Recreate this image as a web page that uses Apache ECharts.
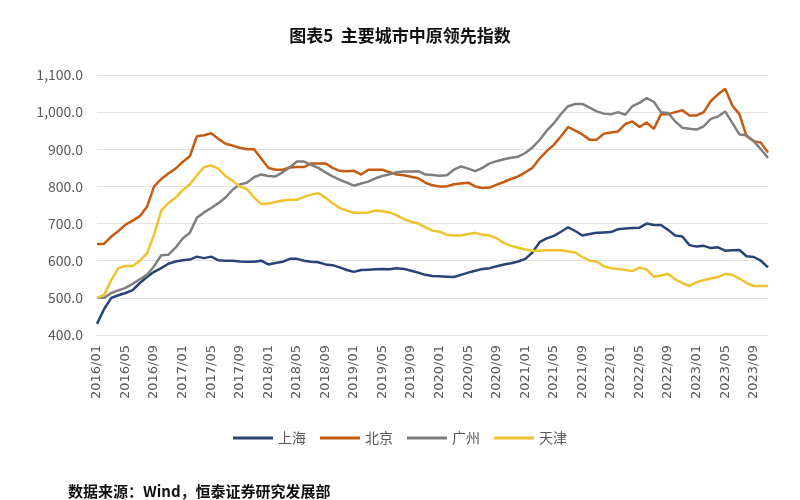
<!DOCTYPE html>
<html>
<head>
<meta charset="utf-8">
<script src="https://cdn.jsdelivr.net/npm/echarts@6/dist/echarts.min.js"></script>
<style>
  html, body { margin: 0; padding: 0; background: #fff; }
  #chart { width: 800px; height: 500px; }
</style>
</head>
<body>
<div id="chart"></div>
<script>
// 月份：2016/01 - 2023/11
const months = [];
for (let y = 2016; y <= 2023; y++) {
  for (let m = 1; m <= 12; m++) {
    if (y === 2023 && m > 11) break;
    months.push(y + '/' + String(m).padStart(2, '0'));
  }
}

const shanghai = [
  430, 470, 500, 507, 513, 521, 540, 556, 570, 580, 592, 598,
  601, 603, 611, 607, 611, 601, 600, 600, 598, 597, 597, 600,
  590, 594, 597, 605, 605, 600, 597, 596, 590, 588, 582, 575,
  570, 575, 576, 577, 578, 577, 580, 578, 573, 568, 562, 559,
  558, 557, 556, 562, 568, 573, 578, 580, 585, 590, 593, 598,
  605, 622, 650, 660, 667, 678, 690, 680, 668, 672, 675, 676,
  677, 685, 687, 688, 689, 700, 696, 696, 683, 668, 665, 642,
  638, 640, 634, 636, 627, 628, 629, 612, 610, 600, 582
];

const beijing = [
  645, 646, 665, 680, 697, 708, 720, 745, 800, 820, 835, 848,
  866, 881, 935, 938, 943, 928, 915, 910, 904, 900, 900, 875,
  850, 845, 845, 851, 852, 852, 862, 862, 862, 850, 842, 841,
  842, 832, 845, 845, 845, 838, 832, 830, 826, 822, 810, 803,
  800, 800, 806, 808, 810, 800, 796, 797, 805, 812, 820, 827,
  838, 850, 875, 895, 912, 935, 960, 950, 940, 926, 926, 942,
  945, 948, 968, 975, 960, 972, 955, 994, 994, 1000, 1005, 991,
  991, 1000, 1030, 1048, 1063, 1018, 994, 935, 922, 918, 891
];

const guangzhou = [
  500, 500, 513, 520, 527, 538, 550, 562, 585, 615, 616, 635,
  660, 675, 716, 730, 742, 755, 770, 791, 805, 810, 825, 832,
  828, 827, 838, 851, 867, 867, 858, 850, 838, 827, 818, 810,
  802, 808, 813, 822, 828, 833, 838, 840, 840, 841, 832, 831,
  829, 830, 845, 854, 848, 841, 850, 862, 868, 873, 877, 880,
  890, 905, 925, 950, 970, 995, 1016, 1022, 1022, 1012, 1002, 996,
  994, 1000, 993, 1016, 1025, 1038, 1028, 1000, 998, 975, 958, 955,
  953, 962, 982, 988, 1002, 971, 940, 938, 922, 900, 877
];

const tianjin = [
  500, 508, 548, 580, 586, 586, 600, 620, 670, 735, 755, 770,
  790, 805, 830, 852, 857, 848, 828, 815, 800, 793, 770, 753,
  754, 758, 762, 764, 764, 772, 778, 782, 770, 755, 742, 735,
  729, 729, 730, 735, 733, 730, 722, 712, 705, 700, 690, 681,
  678, 670, 668, 668, 672, 675, 670, 668, 660, 648, 640, 635,
  630, 627, 627, 628, 628, 628, 625, 622, 610, 600, 598, 585,
  580, 578, 575, 572, 582, 576, 557, 560, 565, 550, 540, 532,
  542, 548, 552, 556, 564, 562, 552, 540, 532, 532, 532
];

const seriesNames = ['上海', '北京', '广州', '天津'];
const seriesData = [shanghai, beijing, guangzhou, tianjin];
const colors = ['#264478', '#C55A11', '#7F7F7F', '#EEC32F'];

const fontFamily = '"Noto Sans CJK SC", "Noto Sans", sans-serif';
const labelColor = '#595959';
const gridColor = '#E3E3E3';

const chart = echarts.init(document.getElementById('chart'), null, { renderer: 'canvas' });

const option = {
  backgroundColor: '#ffffff',
  animation: false,
  textStyle: { fontFamily: fontFamily },
  title: {
    text: '图表5  主要城市中原领先指数',
    left: 'center',
    top: 22,
    textStyle: {
      fontFamily: fontFamily,
      fontSize: 17,
      fontWeight: 'bold',
      color: '#111111'
    }
  },
  legend: {
    data: seriesNames,
    bottom: 50,
    left: 'center',
    icon: 'rect',
    itemWidth: 40,
    itemHeight: 3,
    itemGap: 14,
    textStyle: {
      fontFamily: fontFamily,
      fontSize: 14,
      color: labelColor
    }
  },
  grid: {
    left: 97,
    right: 32,
    top: 75,
    bottom: 165,
    containLabel: false
  },
  xAxis: {
    type: 'category',
    data: months,
    boundaryGap: false,
    axisLine: { show: true, lineStyle: { color: gridColor, width: 1 } },
    axisTick: { show: false },
    axisLabel: {
      interval: 3,
      rotate: 90,
      color: labelColor,
      fontSize: 13,
      margin: 10,
      fontFamily: '"DejaVu Sans", sans-serif'
    },
    splitLine: { show: false }
  },
  yAxis: {
    type: 'value',
    min: 400,
    max: 1100,
    interval: 100,
    axisLine: { show: false },
    axisTick: { show: false },
    axisLabel: {
      color: labelColor,
      fontSize: 14,
      margin: 14,
      fontFamily: fontFamily,
      formatter: function (v) {
        return v.toLocaleString('en-US', { minimumFractionDigits: 1, maximumFractionDigits: 1 });
      }
    },
    splitLine: { lineStyle: { color: gridColor, width: 1 } }
  },
  graphic: [
    {
      type: 'text',
      left: 68,
      top: 484,
      style: {
        text: '数据来源：Wind，恒泰证券研究发展部',
        fontFamily: fontFamily,
        fontSize: 15,
        fontWeight: 'bold',
        fill: '#111111'
      }
    }
  ],
  series: seriesNames.map((name, i) => ({
    name: name,
    type: 'line',
    data: seriesData[i],
    showSymbol: false,
    symbol: 'none',
    lineStyle: { color: colors[i], width: 2.5 },
    itemStyle: { color: colors[i] }
  }))
};

chart.setOption(option);
</script>
</body>
</html>
